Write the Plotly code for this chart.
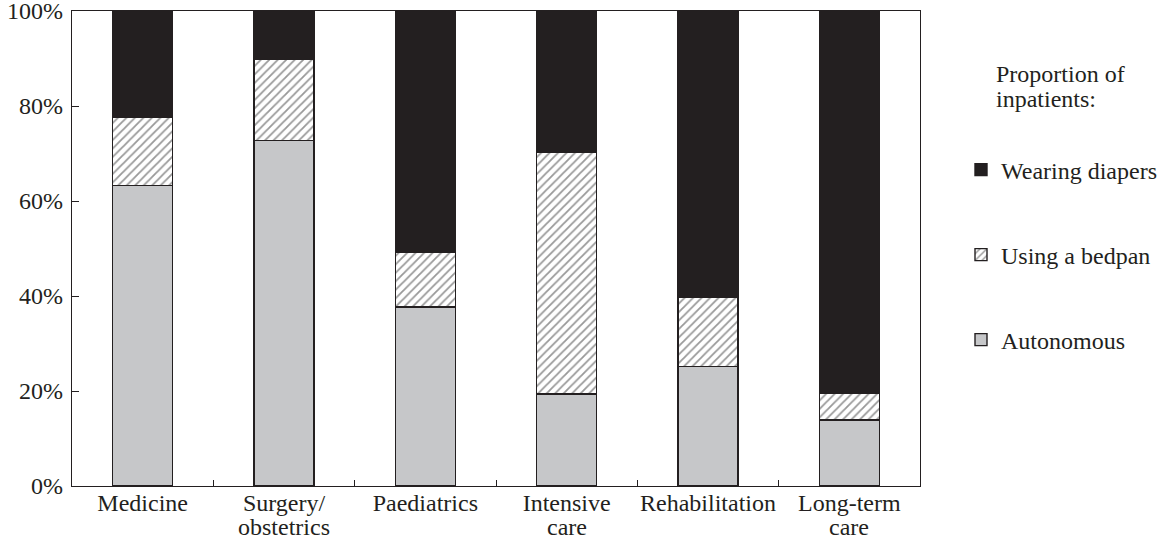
import plotly.graph_objects as go

categories = ["Medicine", "Surgery/<br>obstetrics", "Paediatrics", "Intensive<br>care", "Rehabilitation", "Long-term<br>care"]
autonomous = [63.3, 72.8, 37.7, 19.4, 25.1, 13.9]
bedpan = [14.3, 17.1, 11.4, 50.8, 14.6, 5.6]
diapers = [22.4, 10.1, 50.9, 29.8, 60.3, 80.5]

first_lines = [c.split("<br>")[0] for c in categories]
second_lines = [c.split("<br>")[1] if "<br>" in c else "" for c in categories]

INK = "#231f20"
FONT = "Liberation Serif"
FS = 24

L, R, T, B = 72, 247, 11, 53
W, H = 1167, 539
PW, PH = W - L - R, H - T - B


def px_x(x):
    return (x - L) / PW


def px_y(y):
    return (H - B - y) / PH


fig = go.Figure()
fig.add_trace(go.Bar(
    x=categories, y=autonomous, name="Autonomous", legend="legend3",
    marker=dict(color="#c6c7c9", line=dict(color=INK, width=1.4)),
))
fig.add_trace(go.Bar(
    x=categories, y=bedpan, name="Using a bedpan", legend="legend2",
    marker=dict(color="white", line=dict(color=INK, width=1.4),
                pattern=dict(shape="/", fgcolor="#333333", bgcolor="white", size=6, solidity=0.3)),
))
fig.add_trace(go.Bar(
    x=categories, y=diapers, name="Wearing diapers", legend="legend",
    marker=dict(color=INK, line=dict(color=INK, width=1.4)),
))


def leg(ypx):
    return dict(
        x=px_x(961), xanchor="left", y=px_y(ypx), yanchor="middle",
        itemwidth=30, bgcolor="rgba(0,0,0,0)",
        font=dict(family=FONT, size=FS, color=INK),
    )


annotations = [
    dict(text="Proportion of", xref="paper", yref="paper", x=px_x(994), y=px_y(74),
         xanchor="left", yanchor="middle", showarrow=False,
         font=dict(family=FONT, size=FS, color=INK)),
    dict(text="inpatients:", xref="paper", yref="paper", x=px_x(994), y=px_y(99),
         xanchor="left", yanchor="middle", showarrow=False,
         font=dict(family=FONT, size=FS, color=INK)),
]
for i, txt in enumerate(second_lines):
    if txt:
        annotations.append(dict(
            text=txt, xref="x", yref="paper", x=i, y=px_y(527),
            xanchor="center", yanchor="middle", showarrow=False,
            font=dict(family=FONT, size=FS, color=INK),
        ))

fig.update_layout(
    barmode="stack",
    bargap=0.574,
    width=W, height=H,
    margin=dict(l=L, r=R, t=T, b=B, autoexpand=False),
    plot_bgcolor="white", paper_bgcolor="white",
    font=dict(family=FONT, size=FS, color=INK),
    legend=leg(170),
    legend2=leg(255),
    legend3=leg(340),
    showlegend=True,
    annotations=annotations,
)
fig.update_layout(xaxis=dict(
    tickmode="array", tickvals=categories, ticktext=first_lines,
    automargin=False, ticklabeloverflow="allow", ticklabelstandoff=-5, tickangle=0,
    showline=True, linecolor=INK, linewidth=1.3, mirror=True,
    ticks="inside", tickson="boundaries", ticklen=6, tickcolor=INK, tickwidth=1.3,
    showgrid=False, tickfont=dict(family=FONT, size=FS, color=INK),
))
fig.update_yaxes(
    automargin=False, ticklabeloverflow="allow", ticklabelstandoff=3,
    range=[0, 100], dtick=20, ticksuffix="%",
    showline=True, linecolor=INK, linewidth=1.3, mirror=True,
    ticks="inside", ticklen=7, tickcolor=INK, tickwidth=1.3,
    showgrid=False, zeroline=False, tickfont=dict(family=FONT, size=FS, color=INK),
)

fig.write_html(
    "out.html",
    config={"displayModeBar": False},
    post_script="document.body.style.margin='0px';document.documentElement.style.overflow='hidden';",
)
